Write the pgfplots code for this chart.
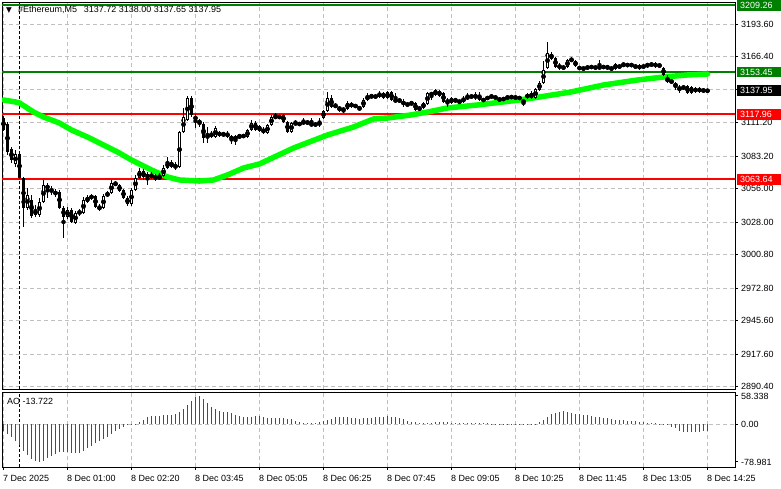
\documentclass[border=0pt]{standalone}
\usepackage{pgfplots}
\pgfplotsset{compat=1.18}
\usepackage{pgfplotstable}
\usepackage{fontspec}
\setmainfont{Liberation Sans}
\newfontfamily\dejavu{DejaVu Sans}
\definecolor{mtgreen}{RGB}{0,128,0}
\definecolor{mtred}{RGB}{255,0,0}
\definecolor{mtlime}{RGB}{0,255,0}
\definecolor{gridc}{RGB}{192,192,192}

\pgfplotstableread{
i o h l c
0 3115.0 3116.7 3104.1 3105.0
1 3110.0 3111.7 3084.1 3086.6
2 3089.1 3090.8 3077.4 3079.9
3 3076.6 3088.3 3074.0 3084.9
4 3084.9 3085.8 3064.0 3064.9
5 3064.9 3065.7 3023.9 3039.8
6 3039.8 3056.5 3038.1 3050.6
7 3046.5 3050.6 3031.4 3033.1
8 3038.1 3042.3 3032.3 3033.9
9 3033.9 3048.1 3032.3 3044.8
10 3044.8 3063.2 3044.0 3059.0
11 3059.0 3060.7 3048.1 3055.7
12 3055.7 3058.2 3050.6 3053.1
13 3050.6 3055.7 3048.9 3054.0
14 3053.1 3054.8 3038.9 3039.8
15 3039.8 3041.5 3014.7 3032.3
16 3032.3 3040.6 3030.6 3038.1
17 3038.1 3039.8 3027.2 3028.1
18 3027.2 3037.3 3026.4 3035.6
19 3034.8 3038.9 3033.1 3037.3
20 3035.6 3048.9 3034.8 3046.5
21 3044.8 3050.6 3044.0 3048.9
22 3048.1 3051.5 3046.5 3049.8
23 3049.8 3050.6 3039.8 3040.6
24 3041.5 3043.1 3037.3 3038.1
25 3039.8 3051.5 3038.9 3049.8
26 3049.8 3054.0 3048.9 3052.3
27 3052.3 3063.2 3051.5 3060.7
28 3060.7 3062.4 3058.2 3059.0
29 3059.0 3059.8 3053.1 3054.0
30 3054.8 3055.7 3047.3 3048.1
31 3048.1 3049.8 3041.5 3043.1
32 3043.1 3056.5 3041.5 3054.8
33 3054.8 3067.4 3054.0 3064.9
34 3064.9 3073.2 3064.0 3070.7
35 3070.7 3072.4 3063.2 3065.7
36 3067.4 3069.9 3059.0 3065.7
37 3065.7 3069.9 3064.0 3067.4
38 3066.5 3068.2 3062.4 3064.0
39 3064.0 3069.0 3063.2 3066.5
40 3066.5 3075.7 3065.7 3073.2
41 3073.2 3082.4 3072.4 3078.2
42 3078.2 3079.9 3073.2 3074.0
43 3074.9 3078.2 3071.5 3074.0
44 3074.0 3104.1 3073.2 3103.3
45 3103.3 3123.4 3102.5 3115.9
46 3113.3 3133.4 3112.5 3131.7
47 3131.7 3133.4 3115.9 3117.5
48 3116.7 3118.4 3106.6 3113.3
49 3112.5 3114.2 3107.5 3110.8
50 3110.0 3111.7 3094.1 3098.3
51 3098.3 3107.5 3094.1 3100.8
52 3099.9 3104.1 3098.3 3101.6
53 3099.1 3108.3 3098.3 3106.6
54 3102.5 3104.1 3099.1 3100.8
55 3100.8 3103.3 3099.9 3101.6
56 3102.5 3104.1 3098.3 3099.1
57 3099.1 3100.8 3093.3 3097.5
58 3097.5 3100.8 3092.4 3099.1
59 3099.1 3101.6 3098.3 3099.9
60 3099.1 3101.6 3098.3 3100.8
61 3099.1 3105.8 3098.3 3105.0
62 3105.0 3113.3 3104.1 3110.8
63 3110.8 3112.5 3104.1 3105.0
64 3108.3 3109.2 3103.3 3104.1
65 3105.8 3107.5 3101.6 3102.5
66 3102.5 3110.0 3101.6 3109.2
67 3109.2 3117.5 3108.3 3115.9
68 3115.0 3119.2 3114.2 3116.7
69 3115.0 3117.5 3114.2 3116.7
70 3117.5 3118.4 3110.8 3111.7
71 3111.7 3112.5 3102.5 3103.3
72 3103.3 3111.7 3102.5 3110.8
73 3110.0 3113.3 3109.2 3110.8
74 3109.2 3111.7 3108.3 3110.8
75 3110.0 3115.0 3109.2 3112.5
76 3112.5 3113.3 3109.2 3110.0
77 3110.0 3115.0 3108.3 3109.2
78 3109.2 3110.8 3108.3 3110.0
79 3110.0 3115.0 3107.5 3110.8
80 3115.0 3121.7 3114.2 3120.9
81 3120.9 3136.8 3120.0 3131.7
82 3131.7 3134.2 3123.4 3124.2
83 3125.9 3127.6 3123.4 3124.2
84 3123.4 3125.0 3120.0 3122.5
85 3121.7 3123.4 3119.2 3122.5
86 3122.5 3129.2 3121.7 3127.6
87 3127.6 3128.4 3123.4 3124.2
88 3124.2 3126.7 3123.4 3125.9
89 3123.4 3125.0 3121.7 3122.5
90 3124.2 3131.7 3123.4 3130.1
91 3130.1 3135.9 3129.2 3133.4
92 3132.6 3135.1 3131.7 3133.4
93 3134.2 3135.1 3130.9 3131.7
94 3132.6 3137.6 3131.7 3135.9
95 3135.9 3136.8 3130.9 3131.7
96 3131.7 3137.6 3130.9 3136.8
97 3136.8 3137.6 3129.2 3130.1
98 3130.9 3135.9 3127.6 3128.4
99 3130.9 3131.7 3127.6 3128.4
100 3126.7 3130.9 3124.2 3128.4
101 3127.6 3128.4 3124.2 3125.0
102 3126.7 3129.2 3125.9 3127.6
103 3127.6 3128.4 3120.9 3121.7
104 3124.2 3125.0 3120.9 3121.7
105 3123.4 3128.4 3122.5 3127.6
106 3126.7 3136.8 3125.9 3135.9
107 3134.2 3136.8 3130.1 3135.9
108 3134.2 3139.3 3133.4 3138.4
109 3137.6 3138.4 3132.6 3133.4
110 3135.9 3136.8 3127.6 3128.4
111 3130.1 3131.7 3124.2 3127.6
112 3127.6 3132.6 3126.7 3131.7
113 3129.2 3131.7 3128.4 3130.1
114 3129.2 3130.1 3126.7 3128.4
115 3128.4 3133.4 3127.6 3131.7
116 3130.9 3135.9 3130.1 3133.4
117 3132.6 3134.2 3131.7 3133.4
118 3134.2 3136.8 3130.1 3131.7
119 3134.2 3136.8 3129.2 3130.1
120 3130.9 3131.7 3128.4 3129.2
121 3130.9 3133.4 3130.1 3132.6
122 3132.6 3134.2 3131.7 3133.4
123 3133.4 3134.2 3130.1 3130.9
124 3130.1 3131.7 3129.2 3130.9
125 3131.7 3132.6 3129.2 3130.1
126 3130.9 3134.2 3130.1 3133.4
127 3133.4 3134.2 3130.9 3131.7
128 3131.7 3133.4 3130.9 3132.6
129 3132.6 3133.4 3130.1 3130.9
130 3129.2 3130.1 3125.0 3128.4
131 3131.7 3135.9 3130.9 3135.1
132 3131.7 3137.6 3130.9 3135.9
133 3131.7 3140.1 3130.9 3139.3
134 3138.4 3146.0 3137.6 3144.3
135 3144.3 3162.7 3143.4 3155.1
136 3156.8 3178.6 3156.0 3169.4
137 3168.5 3170.2 3163.5 3164.3
138 3165.2 3166.0 3156.8 3157.6
139 3159.3 3161.0 3155.1 3156.8
140 3156.8 3159.3 3155.1 3157.6
141 3157.6 3164.3 3156.8 3163.5
142 3162.7 3166.0 3161.8 3164.3
143 3162.7 3163.5 3157.6 3158.5
144 3157.6 3158.5 3155.1 3156.0
145 3156.0 3157.6 3155.1 3156.8
146 3156.0 3159.3 3155.1 3158.5
147 3158.5 3159.3 3156.0 3156.8
148 3156.8 3158.5 3156.0 3157.6
149 3156.0 3163.5 3155.1 3158.5
150 3158.5 3159.3 3156.0 3156.8
151 3156.8 3159.3 3156.0 3157.6
152 3156.0 3157.6 3155.1 3156.8
153 3156.0 3161.0 3155.1 3160.2
154 3156.8 3160.2 3156.0 3159.3
155 3159.3 3161.0 3157.6 3160.2
156 3159.3 3161.0 3157.6 3159.3
157 3159.3 3161.0 3157.6 3159.3
158 3156.8 3160.2 3156.0 3159.3
159 3159.3 3160.2 3155.1 3156.0
160 3159.3 3160.2 3156.0 3156.8
161 3159.3 3161.0 3156.8 3159.3
162 3158.5 3161.8 3157.6 3161.0
163 3161.0 3161.8 3156.8 3157.6
164 3160.2 3161.0 3156.8 3157.6
165 3156.8 3157.6 3150.1 3151.0
166 3148.5 3151.0 3144.3 3145.1
167 3146.8 3147.6 3143.4 3144.3
168 3144.3 3145.1 3138.4 3140.9
169 3139.3 3142.6 3135.9 3140.1
170 3140.1 3141.8 3139.3 3140.9
171 3141.8 3142.6 3135.1 3135.9
172 3140.9 3141.8 3135.1 3135.9
173 3136.8 3140.9 3135.9 3140.1
174 3140.1 3140.9 3135.9 3136.8
175 3137.6 3139.3 3136.8 3138.4
176 3137.72 3138.00 3137.65 3137.95
}\candles

\pgfplotstableread{
i v g
0 -13.9 0
1 -21.5 0
2 -27.7 0
3 -35.3 0
4 -44.4 0
5 -55.4 0
6 -64.4 0
7 -72.8 0
8 -77.6 0
9 -78.981 0
10 -76.2 1
11 -71.4 1
12 -66.5 1
13 -62.4 1
14 -58.9 1
15 -57.5 1
16 -58.2 0
17 -59.6 0
18 -60.3 0
19 -61.0 0
20 -55.4 1
21 -50.6 1
22 -45.0 1
23 -40.2 1
24 -35.3 1
25 -31.2 1
26 -26.3 1
27 -21.5 1
28 -15.2 1
29 -9.7 1
30 -5.5 1
31 -2.8 1
32 -0.7 1
33 0.7 1
34 3.5 1
35 8.3 1
36 13.9 1
37 16.6 1
38 17.3 1
39 16.6 0
40 18.0 1
41 18.7 1
42 19.4 1
43 20.8 1
44 24.9 1
45 31.9 1
46 39.5 1
47 48.5 1
48 55.4 1
49 58.338 1
50 51.3 0
51 43.0 0
52 36.0 0
53 30.5 0
54 27.7 0
55 25.6 0
56 24.9 0
57 22.2 0
58 19.4 0
59 16.6 0
60 13.9 0
61 14.6 1
62 15.2 1
63 15.9 1
64 16.2 1
65 13.9 0
66 13.2 0
67 12.8 0
68 12.5 0
69 12.1 0
70 11.8 0
71 11.4 0
72 11.1 0
73 6.9 0
74 3.5 0
75 2.8 0
76 2.4 0
77 2.1 0
78 1.7 0
79 3.5 1
80 5.5 1
81 8.3 1
82 11.1 1
83 13.9 1
84 15.2 1
85 14.6 0
86 13.9 0
87 13.2 0
88 12.5 0
89 11.1 0
90 11.8 1
91 12.5 1
92 13.2 1
93 13.9 1
94 14.6 1
95 15.2 1
96 16.2 1
97 15.5 0
98 14.0 0
99 12.0 0
100 9.7 0
101 6.9 0
102 4.9 0
103 3.5 0
104 2.1 0
105 1.4 0
106 2.1 1
107 2.8 1
108 3.5 1
109 4.2 1
110 4.9 1
111 4.2 0
112 2.8 0
113 2.1 0
114 1.4 0
115 1.7 1
116 2.1 1
117 1.4 0
118 1.7 1
119 1.4 0
120 1.7 1
121 1.4 0
122 0.7 0
123 0.3 0
124 -0.2 0
125 -0.4 0
126 -0.3 1
127 -0.5 0
128 -0.6 0
129 -0.7 0
130 -1.0 0
131 -0.8 1
132 -0.2 1
133 0.8 1
134 3.5 1
135 8.3 1
136 15.2 1
137 20.1 1
138 23.6 1
139 25.6 1
140 27.0 1
141 24.3 0
142 22.2 0
143 21.5 0
144 20.1 0
145 19.4 0
146 18.7 0
147 16.6 0
148 15.2 0
149 13.9 0
150 13.2 0
151 11.8 0
152 9.7 0
153 9.0 0
154 8.3 0
155 7.6 0
156 6.9 0
157 6.2 0
158 5.5 0
159 4.9 0
160 3.5 0
161 2.8 0
162 2.1 0
163 1.4 0
164 0.7 0
165 -0.3 0
166 -2.1 0
167 -5.5 0
168 -9.0 0
169 -13.9 0
170 -15.9 0
171 -16.6 0
172 -17.0 0
173 -16.6 1
174 -15.9 1
175 -15.2 1
176 -13.722 1
}\ao

\begin{document}
\begin{tikzpicture}[font=\fontsize{9}{10}\selectfont]
\useasboundingbox (0,0) rectangle (781bp,489bp);
% ---------------- main price panel ----------------
\begin{axis}[
  at={(2bp,99.5bp)}, anchor=south west,
  scale only axis, width=733bp, height=387bp,
  xmin=-0.375, xmax=182.875, ymin=2888.0, ymax=3211.6,
  clip mode=individual,
  axis line style={black, line width=1bp},
  xtick={0,16,...,176}, xticklabels={},
  xtick style={draw=none},
  ytick={3193.6,3166.4,3138.8,3111.2,3083.2,3056.0,3028.0,3000.8,2972.8,2945.6,2917.6,2890.4},
  yticklabels={3193.60,3166.40,,3111.20,3083.20,3056.00,3028.00,3000.80,2972.80,2945.60,2917.60,2890.40},
  ytick pos=right, yticklabel pos=right,
  tick align=outside, major tick length=3bp,
  ytick style={black, line width=1bp},
  yticklabel style={anchor=west, inner sep=0pt, xshift=3bp},
  xmajorgrids, ymajorgrids,
  major grid style={gridc, dash pattern=on 4bp off 3bp, line width=1bp},
]
% level lines
\addplot[mtgreen, line width=2bp] coordinates {(-0.375,3209.26) (182.875,3209.26)};
\addplot[mtgreen, line width=2bp] coordinates {(-0.375,3153.45) (182.875,3153.45)};
\addplot[mtred, line width=2bp] coordinates {(-0.375,3117.96) (182.875,3117.96)};
\addplot[mtred, line width=2bp] coordinates {(-0.375,3063.64) (182.875,3063.64)};
% period separator
\addplot[black, line width=1bp, dash pattern=on 3bp off 2bp] coordinates {(4,2888.0) (4,3211.6)};
% moving average
\addplot[mtlime, line width=5.5bp, line cap=round, line join=round] coordinates {
(0,3130.1) (3,3128.4) (4,3127.6) (7.5,3120.0) (10,3115.9) (14,3110.8) (17,3105.0)
(21,3099.1) (24,3094.1) (28.5,3086.6) (32,3079.9) (37,3071.5) (41,3065.7) (44,3063.2)
(49,3062.3) (52.5,3063.2) (56,3067.4) (60,3073.2) (64,3076.6) (72.5,3089.9) (81,3100.8)
(87.5,3107.5) (92.5,3114.2) (96,3115.0) (101.75,3117.5) (106,3120.0) (111,3123.4)
(118.5,3125.9) (129,3130.1) (134,3132.6) (141.75,3136.7) (150,3142.6) (158.5,3146.8)
(165,3149.3) (171,3151.0) (176,3151.8)};
% candles: wicks
\addplot[only marks, mark=none,
  error bars/.cd, y dir=both, y explicit, error mark=none,
  error bar style={draw=black, line width=1bp}]
  table[x=i, y expr={(\thisrow{h}+\thisrow{l})/2}, y error expr={(\thisrow{h}-\thisrow{l})/2}] {\candles};
% candles: bodies
\addplot[only marks, mark=none,
  error bars/.cd, y dir=both, y explicit, error mark=none,
  error bar style={draw=black, line width=3bp}]
  table[x=i, y expr={(\thisrow{o}+\thisrow{c})/2}, y error expr={max(abs(\thisrow{c}-\thisrow{o})/2,0.42)}] {\candles};
% candles: hollow interior of rising bars
\addplot[only marks, mark=none,
  error bars/.cd, y dir=both, y explicit, error mark=none,
  error bar style={draw=white, line width=1bp}]
  table[x=i, y expr={(\thisrow{o}+\thisrow{c})/2}, y error expr={max((\thisrow{c}-\thisrow{o})/2-0.84,0)}] {\candles};
% header
\node[anchor=west, inner sep=0pt, xshift=4bp, yshift=-8bp] at (rel axis cs:0,1) {\dejavu\fontsize{7.5}{8}\selectfont ▼};
\node[anchor=west, inner sep=0pt, xshift=16bp, yshift=-7.5bp] at (rel axis cs:0,1) {\#Ethereum,M5\hspace{4.5bp} 3137.72 3138.00 3137.65 3137.95};
% price tags
\node[anchor=west, fill=mtgreen, text=white, inner xsep=3.3bp, inner ysep=0pt, text width=37.7bp, minimum height=10.5bp, xshift=1.7bp] at (axis cs:182.875,3209.26) {3209.26};
\node[anchor=west, fill=mtgreen, text=white, inner xsep=3.3bp, inner ysep=0pt, text width=37.7bp, minimum height=10.5bp, xshift=1.7bp] at (axis cs:182.875,3153.45) {3153.45};
\node[anchor=west, fill=black, text=white, inner xsep=3.3bp, inner ysep=0pt, text width=37.7bp, minimum height=10.5bp, xshift=1.7bp] at (axis cs:182.875,3137.95) {3137.95};
\node[anchor=west, fill=mtred, text=white, inner xsep=3.3bp, inner ysep=0pt, text width=37.7bp, minimum height=10.5bp, xshift=1.7bp] at (axis cs:182.875,3117.96) {3117.96};
\node[anchor=west, fill=mtred, text=white, inner xsep=3.3bp, inner ysep=0pt, text width=37.7bp, minimum height=10.5bp, xshift=1.7bp] at (axis cs:182.875,3063.64) {3063.64};
\end{axis}
% ---------------- AO panel ----------------
\begin{axis}[
  at={(2bp,22bp)}, anchor=south west,
  scale only axis, width=733bp, height=74.5bp,
  xmin=-0.375, xmax=182.875, ymin=-89.4, ymax=65.5,
  clip mode=individual,
  axis line style={black, line width=1bp},
  xtick={0,16,...,176},
  xticklabels={7 Dec 2025,8 Dec 01:00,8 Dec 02:20,8 Dec 03:45,8 Dec 05:05,8 Dec 06:25,8 Dec 07:45,8 Dec 09:05,8 Dec 10:25,8 Dec 11:45,8 Dec 13:05,8 Dec 14:25},
  xtick pos=bottom, ytick pos=right, yticklabel pos=right,
  tick align=outside, major tick length=3bp,
  tick style={black, line width=1bp},
  xticklabel style={anchor=north west, inner sep=0pt, yshift=-5bp, xshift=-0.5bp},
  ytick={0}, yticklabels={0.00},
  extra y ticks={-78.981,58.338}, extra y tick labels={-78.981,58.338},
  extra y tick style={grid=none},
  yticklabel style={anchor=west, inner sep=0pt, xshift=3bp},
  xmajorgrids, ymajorgrids,
  major grid style={gridc, dash pattern=on 4bp off 3bp, line width=1bp},
]
\addplot[black, line width=1bp, dash pattern=on 3bp off 2bp] coordinates {(4,-89.4) (4,65.5)};
\addplot[ycomb, color=mtgreen, line width=1bp, restrict expr to domain={\thisrow{g}}{1:1}] table[x=i, y=v] {\ao};
\addplot[ycomb, color=mtred, line width=1bp, restrict expr to domain={\thisrow{g}}{0:0}] table[x=i, y=v] {\ao};
\node[anchor=west, inner sep=0pt, xshift=5bp, yshift=-8.5bp] at (rel axis cs:0,1) {AO -13.722};
\end{axis}
\end{tikzpicture}
\end{document}
